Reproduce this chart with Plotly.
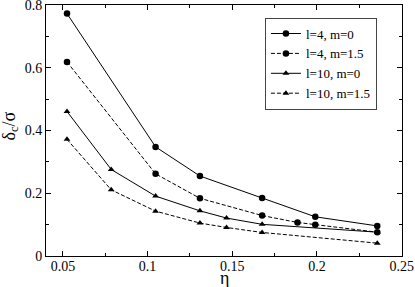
import plotly.graph_objects as go

# data
eta_a = [0.0524, 0.1047, 0.1309, 0.1676, 0.1990, 0.2356]
l4_m0 = [0.773, 0.348, 0.255, 0.185, 0.125, 0.096]

eta_b = [0.0524, 0.1047, 0.1309, 0.1676, 0.1885, 0.1990, 0.2356]
l4_m15 = [0.619, 0.262, 0.184, 0.129, 0.107, 0.100, 0.076]

eta_c = [0.0524, 0.0785, 0.1047, 0.1309, 0.1466, 0.1676, 0.2356]
l10_m0 = [0.461, 0.276, 0.191, 0.144, 0.121, 0.101, 0.076]
l10_m15 = [0.372, 0.211, 0.143, 0.105, 0.091, 0.075, 0.041]

names = ["l=4, m=0", "l=4, m=1.5", "l=10, m=0", "l=10, m=1.5"]
x_ticks = [0.05, 0.1, 0.15, 0.2, 0.25]
y_ticks = [0, 0.2, 0.4, 0.6, 0.8]

FONT = "Liberation Serif"

fig = go.Figure()
series = [
    (eta_a, l4_m0, "circle", "solid"),
    (eta_b, l4_m15, "circle", "dash"),
    (eta_c, l10_m0, "triangle-up", "solid"),
    (eta_c, l10_m15, "triangle-up", "dash"),
]
for (x, y, sym, dash), nm in zip(series, names):
    fig.add_trace(go.Scatter(
        x=x, y=y, name=nm, mode="lines+markers",
        line=dict(color="black", width=1, dash="4px,2px" if dash == "dash" else "solid"),
        marker=dict(symbol=sym, size=6.5 if sym == "circle" else 6, color="black"),
    ))

axis_common = dict(
    showgrid=False, zeroline=False, showline=True, linecolor="black", linewidth=1,
    mirror="allticks", ticks="inside", ticklen=5, tickcolor="black", tickwidth=1,
    tickfont=dict(family=FONT, size=14, color="black"),
    ticklabeloverflow="allow", automargin=False,
)
fig.update_xaxes(
    range=[0.04, 0.2502], tickvals=x_ticks,
    ticktext=[f"{v:g}" for v in x_ticks],
    minor=dict(dtick=0.025, tick0=0.025, ticks="inside", ticklen=3, tickcolor="black", showgrid=False),
    ticklabelstandoff=-3,
    **axis_common,
)
fig.update_yaxes(
    range=[0, 0.8005], tickvals=y_ticks,
    ticktext=[f"{v:g}" for v in y_ticks],
    minor=dict(dtick=0.1, ticks="inside", ticklen=3, tickcolor="black", showgrid=False),
    **axis_common,
)
fig.add_annotation(
    text="η", xref="paper", yref="paper", x=0.5, y=0, yshift=-22,
    xanchor="center", yanchor="middle", showarrow=False,
    font=dict(family=FONT, size=18, color="black"),
)
fig.add_annotation(
    text="δ<sub>c</sub>/σ", xref="paper", yref="paper", x=0, y=0.5, xshift=-36, yshift=4,
    xanchor="center", yanchor="middle", showarrow=False, textangle=-90,
    font=dict(family=FONT, size=18, color="black"),
)
fig.update_layout(
    width=415, height=287,
    margin=dict(l=46, r=13, t=5, b=31),
    paper_bgcolor="white", plot_bgcolor="white",
    font=dict(family=FONT, color="black"),
    legend=dict(
        x=0.615, y=0.95, xanchor="left", yanchor="top",
        bgcolor="white", bordercolor="#444", borderwidth=1,
        font=dict(family=FONT, size=13, color="black"),
        itemwidth=30, tracegroupgap=0,
    ),
    showlegend=True,
)
fig.write_html(
    "out.html",
    config={"displayModeBar": False},
    post_script="document.body.style.margin='0';document.body.style.overflow='hidden';",
)
